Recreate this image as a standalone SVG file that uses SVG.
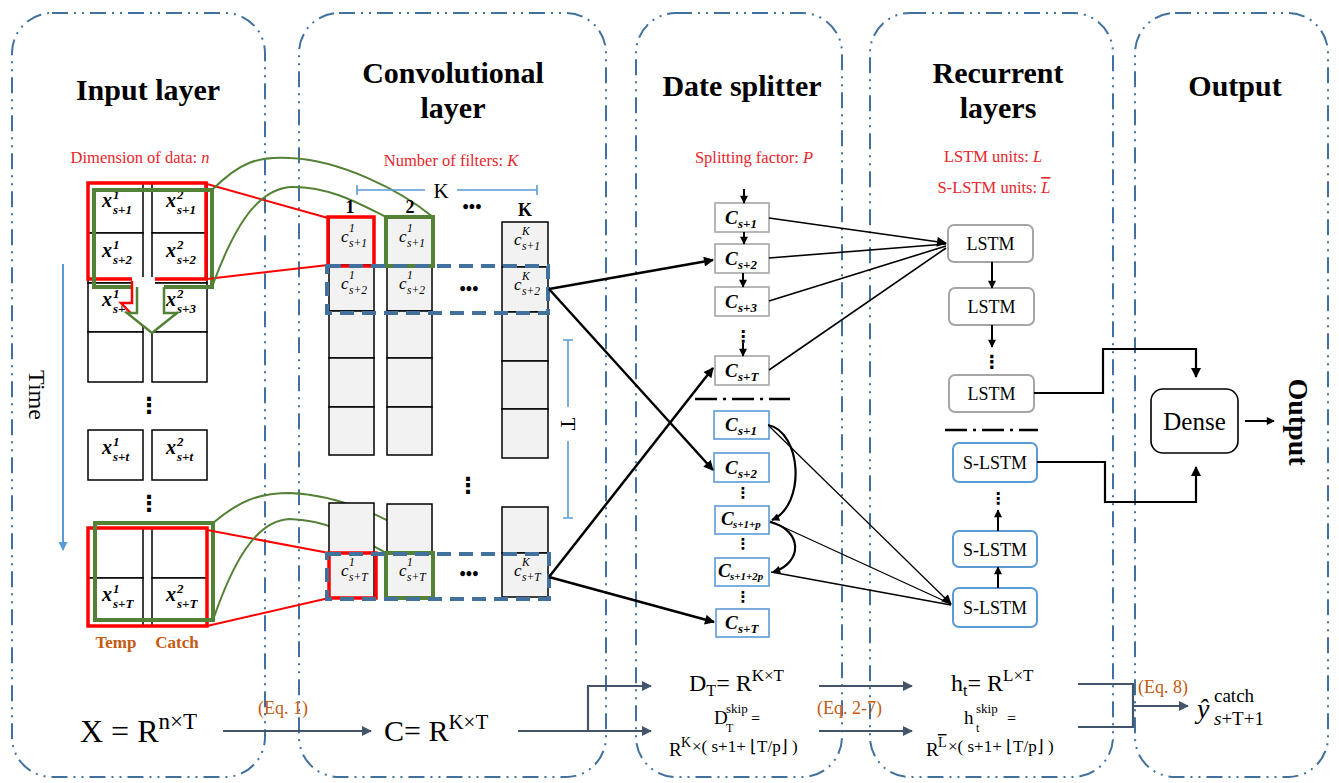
<svg xmlns="http://www.w3.org/2000/svg" width="1339" height="783" viewBox="0 0 1339 783">
<style>
text{font-family:"Liberation Serif","Times New Roman",serif;}
.panel{fill:none;stroke:#41719C;stroke-width:2;stroke-dasharray:16 6 2 6 2 6;}
.title{font-size:30px;font-weight:bold;text-anchor:middle;fill:#000;}
.red{font-size:16.5px;fill:#E8262B;text-anchor:middle;}
.cell{fill:#fff;stroke:#000;stroke-width:1.5;}
.gcell{fill:#F2F2F2;stroke:#000;stroke-width:1.5;}
.xi{font-size:20px;font-weight:bold;font-style:italic;}
.xs{font-size:13px;}
.ci{font-size:17px;font-style:italic;}
.cs{font-size:11.5px;}
.si{font-size:19px;font-weight:bold;font-style:italic;}
.ss{font-size:13px;}
.rbox{fill:none;stroke:#FF0000;stroke-width:3.5;}
.gbox{fill:none;stroke:#538135;stroke-width:4;}
.bdash{fill:none;stroke:#41719C;stroke-width:4;stroke-dasharray:14 8;}
.ub{fill:#fff;stroke:#A6A6A6;stroke-width:1.6;}
.lb{fill:#fff;stroke:#5B9BD5;stroke-width:1.6;}
.lstm{fill:#fff;stroke:#A6A6A6;stroke-width:2;}
.slstm{fill:#fff;stroke:#5B9BD5;stroke-width:2;}
.lbl{font-size:18px;text-anchor:middle;}
.blk{fill:none;stroke:#000;}
.eqa{fill:none;stroke:#44546A;stroke-width:2.2;}
.orange{fill:#C55A11;}
.vd{font-family:"DejaVu Sans",sans-serif;font-weight:bold;text-anchor:middle;}
.sep{fill:none;stroke:#000;stroke-width:2.5;stroke-dasharray:22 6 3 6;}
.brk{fill:none;stroke:#5B9BD5;stroke-width:1.6;}
.ov{text-decoration:overline;}
</style>
<defs>
<marker id="ah" viewBox="0 0 10 10" refX="9" refY="5" markerWidth="12" markerHeight="10" markerUnits="userSpaceOnUse" orient="auto"><path d="M0,0 L10,5 L0,10 z" fill="#000"/></marker>
<marker id="ahs" viewBox="0 0 10 10" refX="9" refY="5" markerWidth="10" markerHeight="8" markerUnits="userSpaceOnUse" orient="auto"><path d="M0,0 L10,5 L0,10 z" fill="#000"/></marker>
<marker id="ahg" viewBox="0 0 10 10" refX="9" refY="5" markerWidth="12" markerHeight="10" markerUnits="userSpaceOnUse" orient="auto"><path d="M0,0 L10,5 L0,10 z" fill="#44546A"/></marker>
<marker id="ahb" viewBox="0 0 10 10" refX="9" refY="5" markerWidth="10" markerHeight="9" markerUnits="userSpaceOnUse" orient="auto"><path d="M0,0 L10,5 L0,10 z" fill="#5B9BD5"/></marker>
</defs>

<g id="panels">
<rect class="panel" x="12" y="13" width="253" height="764" rx="40"/>
<rect class="panel" x="299" y="13" width="307" height="764" rx="40"/>
<rect class="panel" x="636" y="13" width="206" height="764" rx="40"/>
<rect class="panel" x="870" y="13" width="243" height="764" rx="40"/>
<rect class="panel" x="1135" y="13" width="193" height="764" rx="40"/>
</g>

<g id="titles">
<text class="title" x="148" y="100">Input layer</text>
<text class="title" x="453" y="83">Convolutional</text>
<text class="title" x="453" y="118">layer</text>
<text class="title" x="742" y="96">Date splitter</text>
<text class="title" x="998" y="83">Recurrent</text>
<text class="title" x="998" y="118">layers</text>
<text class="title" x="1235" y="96">Output</text>
<text class="red" x="140" y="163" font-size="15.5">Dimension of data: <tspan font-style="italic">n</tspan></text>
<text class="red" x="451" y="166">Number of filters: <tspan font-style="italic">K</tspan></text>
<text class="red" x="754" y="163">Splitting factor: <tspan font-style="italic">P</tspan></text>
<text class="red" x="993" y="162">LSTM units: <tspan font-style="italic">L</tspan></text>
<text class="red" x="994" y="193">S-LSTM units: <tspan font-style="italic" class="ov">L</tspan></text>
</g>

<g id="input-layer">
<line x1="63" y1="264" x2="63" y2="550" stroke="#5B9BD5" stroke-width="2" marker-end="url(#ahb)"/>
<text x="37" y="395" font-size="24" text-anchor="middle" transform="rotate(90 37 395)" dy="8">Time</text>
<rect class="cell" x="88" y="183" width="55" height="50"/>
<rect class="cell" x="88" y="233" width="55" height="50"/>
<rect class="cell" x="88" y="283" width="55" height="49"/>
<rect class="cell" x="88" y="332" width="55" height="50"/>
<rect class="cell" x="152" y="183" width="55" height="50"/>
<rect class="cell" x="152" y="233" width="55" height="50"/>
<rect class="cell" x="152" y="283" width="55" height="49"/>
<rect class="cell" x="152" y="332" width="55" height="50"/>
<rect class="cell" x="88" y="430" width="55" height="50"/>
<rect class="cell" x="152" y="430" width="55" height="50"/>
<rect class="cell" x="88" y="528" width="55" height="50"/>
<rect class="cell" x="88" y="578" width="55" height="48"/>
<rect class="cell" x="152" y="528" width="55" height="50"/>
<rect class="cell" x="152" y="578" width="55" height="48"/>
<text class="xi" x="102" y="207">x<tspan class="xs" x="113" y="199">1</tspan><tspan class="xs" x="113" y="214">s+1</tspan></text>
<text class="xi" x="166" y="207">x<tspan class="xs" x="177" y="199">2</tspan><tspan class="xs" x="177" y="214">s+1</tspan></text>
<text class="xi" x="102" y="257">x<tspan class="xs" x="113" y="249">1</tspan><tspan class="xs" x="113" y="264">s+2</tspan></text>
<text class="xi" x="166" y="257">x<tspan class="xs" x="177" y="249">2</tspan><tspan class="xs" x="177" y="264">s+2</tspan></text>
<text class="xi" x="102" y="306">x<tspan class="xs" x="113" y="298">1</tspan><tspan class="xs" x="113" y="313">s+3</tspan></text>
<text class="xi" x="166" y="306">x<tspan class="xs" x="177" y="298">2</tspan><tspan class="xs" x="177" y="313">s+3</tspan></text>
<text class="xi" x="102" y="454">x<tspan class="xs" x="113" y="446">1</tspan><tspan class="xs" x="113" y="461">s+t</tspan></text>
<text class="xi" x="166" y="454">x<tspan class="xs" x="177" y="446">2</tspan><tspan class="xs" x="177" y="461">s+t</tspan></text>
<text class="xi" x="102" y="601">x<tspan class="xs" x="113" y="593">1</tspan><tspan class="xs" x="113" y="608">s+T</tspan></text>
<text class="xi" x="166" y="601">x<tspan class="xs" x="177" y="593">2</tspan><tspan class="xs" x="177" y="608">s+T</tspan></text>
<text class="vd" x="149" y="413" font-size="22">⋮</text>
<text class="vd" x="149" y="511" font-size="22">⋮</text>
<rect class="rbox" x="88" y="183" width="118" height="96"/>
<rect class="gbox" x="94" y="190" width="118" height="97"/>
<polygon points="132,277 155,277 155,303 163,303 143,326 121,303 132,303" fill="#fff"/>
<polyline points="132,281 132,303 121,303 143,326" fill="none" stroke="#FF0000" stroke-width="2.5"/>
<polygon points="137,285 164,285 164,313 177,313 152,333 127,313 137,313" fill="#fff"/>
<polyline points="137,287 137,313 127,313 152,333 177,313 164,313 164,287" fill="none" stroke="#538135" stroke-width="2.5"/>
<rect class="rbox" x="88" y="528" width="119" height="98"/>
<rect class="gbox" x="95" y="523" width="118" height="97"/>
<text x="116" y="648" font-size="17" font-weight="bold" text-anchor="middle" class="orange">Temp</text>
<text x="177" y="648" font-size="17" font-weight="bold" text-anchor="middle" class="orange">Catch</text>
</g>

<g id="input-to-conv">
<line x1="207" y1="184" x2="328" y2="218" stroke="#FF0000" stroke-width="2"/>
<line x1="207" y1="279" x2="328" y2="265" stroke="#FF0000" stroke-width="2"/>
<path d="M212,190 C240,162 258,156 290,158 C340,160 400,190 433,217" fill="none" stroke="#538135" stroke-width="2"/>
<path d="M212,287 C232,232 255,190 290,187 C330,186 362,205 386,217" fill="none" stroke="#538135" stroke-width="2"/>
<line x1="207" y1="530" x2="329" y2="553" stroke="#FF0000" stroke-width="2"/>
<line x1="207" y1="626" x2="329" y2="598" stroke="#FF0000" stroke-width="2"/>
<path d="M213,523 C240,500 260,493 290,493 C340,495 400,520 433,553" fill="none" stroke="#538135" stroke-width="2"/>
<path d="M213,620 C232,565 255,520 290,519 C330,520 362,540 386,553" fill="none" stroke="#538135" stroke-width="2"/>
</g>

<g id="conv-layer">
<path class="brk" d="M357,190 H425 M457,190 H537 M357,185 V195 M537,185 V195"/>
<text x="441" y="198" font-size="21" text-anchor="middle">K</text>
<text x="350" y="213" font-size="18" font-weight="bold" text-anchor="middle">1</text>
<text x="410" y="213" font-size="18" font-weight="bold" text-anchor="middle">2</text>
<text x="472" y="213" font-size="18" font-weight="bold" text-anchor="middle">•••</text>
<text x="525" y="216" font-size="18" font-weight="bold" text-anchor="middle">K</text>
<rect class="gcell" x="329" y="217" width="45" height="48"/>
<rect class="gcell" x="329" y="265" width="45" height="46"/>
<rect class="gcell" x="329" y="311" width="45" height="47"/>
<rect class="gcell" x="329" y="358" width="45" height="49"/>
<rect class="gcell" x="329" y="407" width="45" height="48"/>
<rect class="gcell" x="387" y="217" width="45" height="48"/>
<rect class="gcell" x="387" y="265" width="45" height="46"/>
<rect class="gcell" x="387" y="311" width="45" height="47"/>
<rect class="gcell" x="387" y="358" width="45" height="49"/>
<rect class="gcell" x="387" y="407" width="45" height="48"/>
<rect class="gcell" x="502" y="222" width="46" height="45"/>
<rect class="gcell" x="502" y="267" width="46" height="45"/>
<rect class="gcell" x="502" y="312" width="46" height="49"/>
<rect class="gcell" x="502" y="361" width="46" height="48"/>
<rect class="gcell" x="502" y="409" width="46" height="49"/>
<rect class="gcell" x="329" y="503" width="45" height="50"/>
<rect class="gcell" x="329" y="553" width="45" height="45"/>
<rect class="gcell" x="387" y="504" width="45" height="49"/>
<rect class="gcell" x="387" y="553" width="45" height="45"/>
<rect class="gcell" x="502" y="507" width="46" height="46"/>
<rect class="gcell" x="502" y="553" width="46" height="44"/>
<text class="ci" x="341" y="242">c<tspan class="cs" x="349" y="232">1</tspan><tspan class="cs" x="349" y="247">s+1</tspan></text>
<text class="ci" x="399" y="242">c<tspan class="cs" x="407" y="232">1</tspan><tspan class="cs" x="407" y="247">s+1</tspan></text>
<text class="ci" x="514" y="245">c<tspan class="cs" x="522" y="235">K</tspan><tspan class="cs" x="522" y="250">s+1</tspan></text>
<text class="ci" x="341" y="289">c<tspan class="cs" x="349" y="279">1</tspan><tspan class="cs" x="349" y="294">s+2</tspan></text>
<text class="ci" x="399" y="289">c<tspan class="cs" x="407" y="279">1</tspan><tspan class="cs" x="407" y="294">s+2</tspan></text>
<text class="ci" x="514" y="290">c<tspan class="cs" x="522" y="280">K</tspan><tspan class="cs" x="522" y="295">s+2</tspan></text>
<text class="ci" x="341" y="576">c<tspan class="cs" x="349" y="566">1</tspan><tspan class="cs" x="349" y="581">s+T</tspan></text>
<text class="ci" x="399" y="576">c<tspan class="cs" x="407" y="566">1</tspan><tspan class="cs" x="407" y="581">s+T</tspan></text>
<text class="ci" x="514" y="576">c<tspan class="cs" x="522" y="566">K</tspan><tspan class="cs" x="522" y="581">s+T</tspan></text>
<text x="469" y="295" font-size="18" font-weight="bold" text-anchor="middle">•••</text>
<text x="469" y="580" font-size="18" font-weight="bold" text-anchor="middle">•••</text>
<text class="vd" x="468" y="493" font-size="22">⋮</text>
<rect class="rbox" x="328" y="217" width="46" height="49" stroke-width="4"/>
<rect class="gbox" x="386" y="217" width="47" height="49"/>
<rect class="rbox" x="329" y="553" width="47" height="45" stroke-width="4"/>
<rect class="gbox" x="386" y="553" width="47" height="45"/>
<rect class="bdash" x="327" y="266" width="221" height="47"/>
<rect class="bdash" x="327" y="554" width="222" height="45"/>
<path class="brk" d="M568,340 V407 M568,441 V518 M563,340 H573 M563,518 H573"/>
<text x="568" y="424" font-size="21" text-anchor="middle" transform="rotate(90 568 424)" dy="7">T</text>
</g>

<g id="date-splitter">
<rect class="ub" x="715" y="203" width="54" height="29"/>
<rect class="ub" x="715" y="244" width="54" height="29"/>
<rect class="ub" x="715" y="287" width="54" height="29"/>
<rect class="ub" x="715" y="356" width="54" height="29"/>
<text class="si" x="725" y="224">C<tspan class="ss" x="738" y="228">s+1</tspan></text>
<text class="si" x="725" y="265">C<tspan class="ss" x="738" y="269">s+2</tspan></text>
<text class="si" x="725" y="308">C<tspan class="ss" x="738" y="312">s+3</tspan></text>
<text class="si" x="725" y="377">C<tspan class="ss" x="738" y="381">s+T</tspan></text>
<text class="vd" x="743" y="342" font-size="16">⋮</text>
<path class="sep" d="M695,399 H790"/>
<rect class="lb" x="714" y="411" width="55" height="28"/>
<rect class="lb" x="714" y="453" width="55" height="29"/>
<rect class="lb" x="715" y="506" width="54" height="28"/>
<rect class="lb" x="715" y="558" width="54" height="28"/>
<rect class="lb" x="716" y="609" width="53" height="28"/>
<text class="si" x="725" y="431">C<tspan class="ss" x="738" y="435">s+1</tspan></text>
<text class="si" x="725" y="474">C<tspan class="ss" x="738" y="478">s+2</tspan></text>
<text class="si" x="721" y="525" font-size="16">C<tspan font-size="11" x="733" y="528">s+1+p</tspan></text>
<text class="si" x="718" y="577" font-size="15">C<tspan font-size="11" x="730" y="580">s+1+2p</tspan></text>
<text class="si" x="725" y="629">C<tspan class="ss" x="738" y="633">s+T</tspan></text>
<text class="vd" x="743" y="498" font-size="15">⋮</text>
<text class="vd" x="743" y="549" font-size="15">⋮</text>
<text class="vd" x="743" y="602" font-size="15">⋮</text>
</g>

<g id="recurrent-layers">
<rect class="lstm" x="948" y="225" width="85" height="37" rx="6"/>
<rect class="lstm" x="949" y="288" width="85" height="37" rx="6"/>
<rect class="lstm" x="949" y="375" width="85" height="37" rx="6"/>
<text class="lbl" x="990.5" y="250">LSTM</text>
<text class="lbl" x="991.5" y="313">LSTM</text>
<text class="lbl" x="991.5" y="400">LSTM</text>
<text class="vd" x="992" y="368" font-size="18">⋮</text>
<path class="sep" d="M945,430 H1038"/>
<rect class="slstm" x="953" y="443" width="84" height="39" rx="6"/>
<rect class="slstm" x="953" y="531" width="84" height="36" rx="6"/>
<rect class="slstm" x="953" y="588" width="84" height="39" rx="6"/>
<text class="lbl" x="995" y="469">S-LSTM</text>
<text class="lbl" x="995" y="556">S-LSTM</text>
<text class="lbl" x="995" y="614">S-LSTM</text>
<text class="vd" x="998" y="504" font-size="16">⋮</text>
</g>

<g id="output-layer">
<rect x="1151" y="389" width="87" height="64" rx="12" fill="#fff" stroke="#000" stroke-width="1.6"/>
<text x="1194.5" y="430" font-size="25" text-anchor="middle">Dense</text>
<text x="1298" y="422" font-size="28" font-weight="bold" text-anchor="middle" transform="rotate(90 1298 422)" dy="9">Output</text>
</g>

<g id="connectors">
<line class="blk" stroke-width="2.5" x1="549" y1="289" x2="713" y2="260" marker-end="url(#ah)"/>
<line class="blk" stroke-width="2.5" x1="549" y1="289" x2="713" y2="470" marker-end="url(#ah)"/>
<line class="blk" stroke-width="2.5" x1="549" y1="577" x2="713" y2="368" marker-end="url(#ah)"/>
<line class="blk" stroke-width="2.5" x1="549" y1="577" x2="714" y2="622" marker-end="url(#ah)"/>
<line class="blk" stroke-width="2" x1="744" y1="189" x2="744" y2="203" marker-end="url(#ahs)"/>
<line class="blk" stroke-width="2" x1="744" y1="232" x2="744" y2="244" marker-end="url(#ahs)"/>
<line class="blk" stroke-width="2" x1="743" y1="273" x2="743" y2="287" marker-end="url(#ahs)"/>
<line class="blk" stroke-width="2" x1="743" y1="343" x2="743" y2="356" marker-end="url(#ahs)"/>
<path class="blk" stroke-width="2.2" d="M768,425 C802,432 806,505 772,520" marker-end="url(#ahs)"/>
<path class="blk" stroke-width="2.2" d="M770,522 C803,530 803,563 773,572" marker-end="url(#ahs)"/>
<line class="blk" stroke-width="1.6" x1="769" y1="218" x2="946" y2="243" marker-end="url(#ah)"/>
<line class="blk" stroke-width="1.6" x1="769" y1="258" x2="946" y2="244"/>
<line class="blk" stroke-width="1.6" x1="769" y1="301" x2="946" y2="246"/>
<line class="blk" stroke-width="1.6" x1="769" y1="370" x2="946" y2="248"/>
<line class="blk" stroke-width="1.3" x1="769" y1="426" x2="951" y2="604" marker-end="url(#ah)"/>
<line class="blk" stroke-width="1.3" x1="770" y1="521" x2="951" y2="604"/>
<line class="blk" stroke-width="1.3" x1="771" y1="572" x2="951" y2="605"/>
<line class="blk" stroke-width="2" x1="992" y1="262" x2="992" y2="288" marker-end="url(#ahs)"/>
<line class="blk" stroke-width="2" x1="992" y1="325" x2="992" y2="347" marker-end="url(#ahs)"/>
<line class="blk" stroke-width="2" x1="998" y1="588" x2="998" y2="567" marker-end="url(#ahs)"/>
<line class="blk" stroke-width="2" x1="998" y1="531" x2="998" y2="510" marker-end="url(#ahs)"/>
<path class="blk" stroke-width="2.2" d="M1034,393 H1103 V349 H1196 V377" marker-end="url(#ah)"/>
<path class="blk" stroke-width="2.2" d="M1037,462 H1105 V502 H1196 V467" marker-end="url(#ah)"/>
<line class="blk" stroke-width="2" x1="1245" y1="421" x2="1274" y2="421" marker-end="url(#ahs)"/>
<path class="eqa" d="M223,731 H371" marker-end="url(#ahg)"/>
<path class="eqa" d="M518,731 H651" marker-end="url(#ahg)"/>
<path class="eqa" d="M588,731 V686 H651" marker-end="url(#ahg)"/>
<path class="eqa" d="M819,686 H912" marker-end="url(#ahg)"/>
<path class="eqa" d="M819,731 H912" marker-end="url(#ahg)"/>
<path class="eqa" d="M1078,684 H1133 V727 H1078"/>
<path class="eqa" d="M1133,706 H1188" marker-end="url(#ahg)"/>
</g>

<g id="equations">
<text x="80" y="742" font-size="32">X = R<tspan font-size="23" dy="-13">n×T</tspan></text>
<text x="258" y="714" font-size="18" class="orange">(Eq. 1)</text>
<text x="384" y="741" font-size="30">C= R<tspan font-size="21" dy="-12">K×T</tspan></text>
<text x="689" y="691" font-size="24">D<tspan font-size="16" dy="5">T</tspan><tspan dy="-5">= R</tspan><tspan font-size="17" dy="-10">K×T</tspan></text>
<text x="714" y="724" font-size="19">D<tspan font-size="13" x="726" y="713">skip</tspan><tspan font-size="12" x="726" y="732">T</tspan><tspan font-size="16" x="751" y="724">=</tspan></text>
<text x="669" y="756" font-size="19">R<tspan font-size="14" x="681" y="747">K</tspan><tspan font-size="17" x="692" y="752">×( s+1+ ⌊T/p⌋ )</tspan></text>
<text x="817" y="714" font-size="18" class="orange">(Eq. 2-7)</text>
<text x="951" y="691" font-size="24">h<tspan font-size="16" dy="5">t</tspan><tspan dy="-5">= R</tspan><tspan font-size="17" dy="-10">L×T</tspan></text>
<text x="964" y="724" font-size="19">h<tspan font-size="13" x="976" y="713">skip</tspan><tspan font-size="12" x="976" y="732">t</tspan><tspan font-size="16" x="1007" y="724">=</tspan></text>
<text x="926" y="756" font-size="19">R<tspan font-size="14" x="938" y="747" class="ov">L</tspan><tspan font-size="17" x="948" y="752">×( s+1+ ⌊T/p⌋ )</tspan></text>
<text x="1138" y="693" font-size="18" class="orange">(Eq. 8)</text>
<text x="1197" y="718" font-size="28" font-style="italic">ŷ<tspan font-size="19" font-style="normal" x="1214" y="702">catch</tspan><tspan font-size="19" x="1214" y="725">s<tspan font-style="normal">+T+1</tspan></tspan></text>
</g>
</svg>
